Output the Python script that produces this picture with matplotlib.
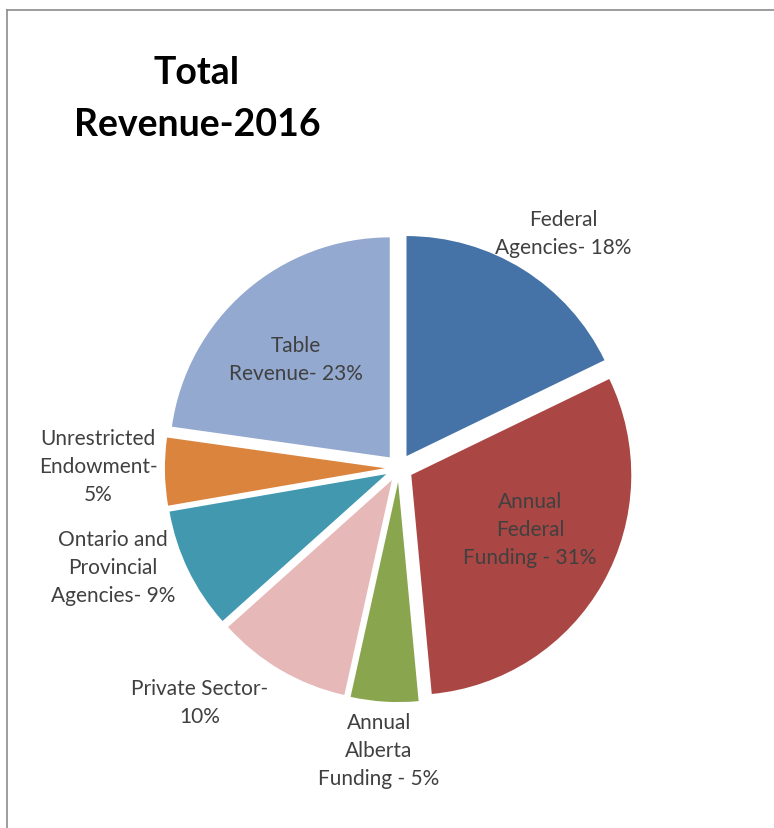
import matplotlib.pyplot as plt

W, H = 774, 829
R = 220.0          # pie radius in pixels
CX, CY = 399, 469  # pie centre in pixels (y downwards)

labels = ["Federal\nAgencies- 18%", "Annual\nFederal\nFunding - 31%",
          "Annual\nAlberta\nFunding - 5%", "Private Sector-\n10%",
          "Ontario and\nProvincial\nAgencies- 9%", "Unrestricted\nEndowment-\n5%",
          "Table\nRevenue- 23%"]
values = [18, 31, 5, 10, 9, 5, 23]
colors = ["#4572A7", "#AA4643", "#89A54E", "#E6B9B8", "#4198AF", "#DB843D", "#93A9CF"]

# label centres in pixels
label_pos = [(563, 234), (530, 530), (379, 751), (200, 703),
             (113, 568), (98, 467), (296, 360)]


def to_data(px, py):
    return (px - CX) / R, (CY - py) / R


fig = plt.figure(figsize=(W / 100, H / 100), dpi=100)
ax = fig.add_axes([0, 0, 1, 1])

ax.pie(values, colors=colors, startangle=90, counterclock=False,
       explode=[0.064] * len(values), radius=1.0,
       wedgeprops=dict(linewidth=0), frame=True)
ax.set_xlim(-CX / R, (W - CX) / R)
ax.set_ylim(-(H - CY) / R, CY / R)
ax.set_aspect("equal")
ax.axis("off")

for lab, (px, py) in zip(labels, label_pos):
    x, y = to_data(px, py)
    ax.text(x, y, lab, ha="center", va="center", fontsize=15,
            family="Lato", color="#404040", linespacing=1.5)

tx, ty = to_data(197, 99)
ax.text(tx, ty, "Total\nRevenue-2016", ha="center", va="center",
        fontsize=27, fontweight="bold", family="Lato", color="black",
        linespacing=1.65)

# chart border (top and left visible)
fig.add_artist(plt.Line2D([7 / W, 7 / W], [0, 1 - 11 / H], color="#8c8c8c", lw=1.2))
fig.add_artist(plt.Line2D([7 / W, 1], [1 - 11 / H, 1 - 11 / H], color="#8c8c8c", lw=1.2))

fig.savefig("out.png", dpi=100)
